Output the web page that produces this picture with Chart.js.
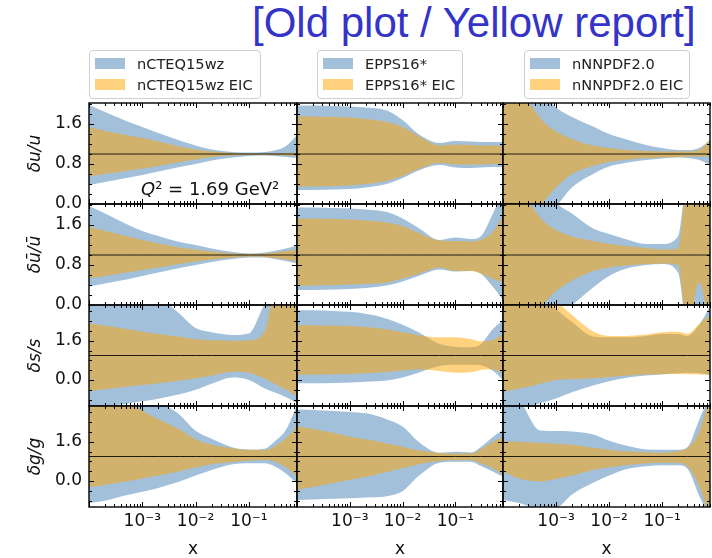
<!DOCTYPE html>
<html><head><meta charset="utf-8">
<script src="https://cdn.jsdelivr.net/npm/chart.js@4.4.1/dist/chart.umd.min.js"></script>
<style>
html,body{margin:0;padding:0;background:#fff;width:712px;height:558px;overflow:hidden;position:relative;font-family:'DejaVu Sans',sans-serif;}
canvas{position:absolute;}
.title{position:absolute;left:252px;top:2px;font-family:'Liberation Sans',Arial,sans-serif;font-size:42px;line-height:1;color:#3434c8;white-space:nowrap;}
.legend{position:absolute;top:50px;height:49px;border:1px solid #cfcfcf;border-radius:4px;background:rgba(255,255,255,0.85);box-sizing:border-box;}
.legend .patch{position:absolute;left:5px;width:30px;height:11px;}
.legend .lab{position:absolute;left:47px;font-size:14.6px;line-height:18px;color:#222;white-space:nowrap;}
.ann{position:absolute;left:141px;top:180px;font-size:18px;line-height:18px;color:#111;white-space:nowrap;z-index:5;}
</style>
</head>
<body>
<div class="title">[Old plot / Yellow report]</div>
<script>
// ---------------- data ----------------
const xGrid = [1e-4, 2e-4, 5e-4, 1e-3, 2e-3, 5e-3, 1e-2, 2e-2, 5e-2, 0.1, 0.2, 0.3, 0.5, 0.8];

const setNames = ['nCTEQ15wz', 'EPPS16*', 'nNNPDF2.0'];
const eicNames = ['nCTEQ15wz EIC', 'EPPS16* EIC', 'nNNPDF2.0 EIC'];
const flavourLabels = ['δu/u', 'δū/ū', 'δs/s', 'δg/g'];

const xTickValues = [1e-3, 1e-2, 1e-1];
const xTickLabels = ['10⁻³', '10⁻²', '10⁻¹'];
const xMajorMarks = [1e-4, 1e-3, 1e-2, 1e-1];
const yTicksNarrow = [0, 0.8, 1.6];
const yMinorNarrow = [0.2, 0.4, 0.6, 1.0, 1.2, 1.4, 1.8, 2.0];
const yTicksWide = [0, 1.6];
const yMinorWide = [-0.8, -0.4, 0.4, 0.8, 1.2, 2.0, 2.4, 2.8];
const unityRatio = 1;

// nCTEQ15wz
const nCTEQ_u_hi    = [1.98, 1.84, 1.66, 1.54, 1.42, 1.27, 1.17, 1.09, 1.04, 1.03, 1.04, 1.07, 1.16, 1.38];
const nCTEQ_u_lo    = [0.38, 0.44, 0.52, 0.58, 0.65, 0.74, 0.80, 0.87, 0.93, 0.96, 0.97, 0.96, 0.94, 0.92];
const nCTEQ_u_eicHi = [1.54, 1.46, 1.38, 1.32, 1.25, 1.15, 1.09, 1.05, 1.02, 1.01, 1.01, 1.01, 1.02, 1.03];
const nCTEQ_u_eicLo = [0.55, 0.60, 0.66, 0.71, 0.76, 0.84, 0.89, 0.94, 0.97, 0.98, 0.98, 0.98, 0.97, 0.96];

const nCTEQ_ub_hi    = [1.98, 1.83, 1.62, 1.48, 1.38, 1.26, 1.20, 1.13, 1.06, 1.03, 1.05, 1.08, 1.13, 1.19];
const nCTEQ_ub_lo    = [0.37, 0.43, 0.51, 0.58, 0.65, 0.74, 0.80, 0.86, 0.92, 0.95, 0.95, 0.92, 0.88, 0.83];
const nCTEQ_ub_eicHi = [1.57, 1.48, 1.38, 1.30, 1.23, 1.15, 1.11, 1.07, 1.03, 1.02, 1.03, 1.05, 1.08, 1.11];
const nCTEQ_ub_eicLo = [0.53, 0.58, 0.65, 0.70, 0.75, 0.82, 0.87, 0.91, 0.95, 0.97, 0.96, 0.94, 0.91, 0.87];

const nCTEQ_s_hi    = [3.5, 3.5, 3.5, 3.5, 3.4, 2.7, 2.12, 1.95, 1.84, 1.90, 3.1, 3.5, 3.5, 3.5];
const nCTEQ_s_lo    = [-1.13, -1.07, -0.97, -0.87, -0.76, -0.58, -0.40, -0.15, 0.10, 0.00, -0.35, -0.50, -0.70, -0.94];
const nCTEQ_s_eicHi = [2.31, 2.22, 2.08, 1.97, 1.88, 1.76, 1.66, 1.62, 1.60, 1.62, 2.0, 3.5, 3.5, 3.5];
const nCTEQ_s_eicLo = [-0.47, -0.38, -0.27, -0.20, -0.13, -0.02, 0.07, 0.18, 0.34, 0.30, 0.05, -0.15, -0.40, -0.65];

const nCTEQ_g_hi    = [5.0, 5.0, 4.5, 3.9, 3.3, 2.7, 2.05, 1.72, 1.37, 1.29, 1.32, 1.60, 2.10, 3.1];
const nCTEQ_g_lo    = [-0.90, -0.80, -0.58, -0.44, -0.28, -0.02, 0.22, 0.45, 0.68, 0.72, 0.72, 0.60, 0.30, -0.10];
const nCTEQ_g_eicHi = [3.6, 3.5, 3.25, 2.87, 2.52, 2.10, 1.70, 1.48, 1.34, 1.27, 1.27, 1.40, 1.75, 2.2];
const nCTEQ_g_eicLo = [-0.25, -0.16, -0.02, 0.10, 0.22, 0.40, 0.55, 0.68, 0.78, 0.83, 0.86, 0.80, 0.55, 0.18];

// EPPS16*
const EPPS_u_hi    = [1.97, 1.97, 1.96, 1.95, 1.93, 1.87, 1.68, 1.40, 1.22, 1.26, 1.25, 1.24, 1.24, 1.24];
const EPPS_u_lo    = [0.28, 0.28, 0.29, 0.30, 0.33, 0.40, 0.52, 0.67, 0.78, 0.73, 0.72, 0.73, 0.74, 0.74];
const EPPS_u_eicHi = [1.76, 1.75, 1.74, 1.73, 1.70, 1.64, 1.54, 1.36, 1.17, 1.19, 1.18, 1.17, 1.17, 1.16];
const EPPS_u_eicLo = [0.35, 0.35, 0.36, 0.37, 0.40, 0.46, 0.56, 0.70, 0.82, 0.79, 0.79, 0.79, 0.80, 0.80];

const EPPS_ub_hi    = [1.95, 1.95, 1.94, 1.93, 1.91, 1.86, 1.73, 1.54, 1.30, 1.35, 1.32, 1.37, 1.80, 2.3];
const EPPS_ub_lo    = [0.30, 0.30, 0.31, 0.32, 0.34, 0.39, 0.47, 0.58, 0.71, 0.67, 0.68, 0.63, 0.38, 0.10];
const EPPS_ub_eicHi = [1.73, 1.73, 1.72, 1.71, 1.69, 1.65, 1.58, 1.44, 1.29, 1.28, 1.27, 1.30, 1.45, 1.77];
const EPPS_ub_eicLo = [0.38, 0.39, 0.40, 0.41, 0.42, 0.45, 0.53, 0.62, 0.75, 0.68, 0.68, 0.63, 0.53, 0.45];

const EPPS_s_hi    = [2.85, 2.85, 2.82, 2.78, 2.70, 2.50, 2.25, 1.95, 1.48, 1.36, 1.34, 1.45, 2.05, 2.45];
const EPPS_s_lo    = [-0.13, -0.13, -0.12, -0.10, -0.07, -0.02, 0.10, 0.30, 0.57, 0.62, 0.62, 0.60, 0.40, 0.00];
const EPPS_s_eicHi = [2.24, 2.23, 2.21, 2.20, 2.16, 2.07, 1.95, 1.83, 1.74, 1.74, 1.66, 1.58, 1.62, 1.90];
const EPPS_s_eicLo = [0.21, 0.22, 0.24, 0.25, 0.28, 0.33, 0.39, 0.44, 0.37, 0.30, 0.32, 0.41, 0.44, 0.28];

const EPPS_g_hi    = [2.92, 2.90, 2.86, 2.82, 2.76, 2.52, 2.22, 1.60, 1.15, 1.19, 1.16, 1.38, 1.78, 2.08];
const EPPS_g_lo    = [-0.77, -0.75, -0.72, -0.70, -0.67, -0.62, -0.42, 0.20, 0.75, 0.79, 0.79, 0.62, 0.40, 0.18];
const EPPS_g_eicHi = [2.24, 2.12, 1.96, 1.81, 1.70, 1.53, 1.40, 1.25, 1.14, 1.12, 1.12, 1.30, 1.58, 1.81];
const EPPS_g_eicLo = [-0.36, -0.24, -0.08, 0.05, 0.17, 0.37, 0.52, 0.68, 0.82, 0.86, 0.86, 0.72, 0.53, 0.25];

// nNNPDF2.0
const NNPDF_u_hi    = [3.5, 3.0, 2.25, 1.93, 1.74, 1.55, 1.40, 1.30, 1.18, 1.12, 1.08, 1.08, 1.12, 1.28];
const NNPDF_u_lo    = [-1.5, -1.0, -0.4, -0.05, 0.33, 0.60, 0.75, 0.82, 0.88, 0.91, 0.93, 0.92, 0.88, 0.78];
const NNPDF_u_eicHi = [3.0, 2.4, 1.72, 1.45, 1.30, 1.17, 1.12, 1.08, 1.06, 1.05, 1.05, 1.05, 1.08, 1.28];
const NNPDF_u_eicLo = [-1.0, -0.6, -0.05, 0.33, 0.60, 0.76, 0.84, 0.88, 0.92, 0.93, 0.94, 0.95, 0.95, 0.95];

const NNPDF_ub_hi    = [3.5, 3.0, 2.5, 2.05, 1.83, 1.53, 1.42, 1.32, 1.22, 1.22, 1.38, 2.5, 2.5, 2.5];
const NNPDF_ub_lo    = [-1.5, -1.1, -0.6, -0.25, 0.0, 0.35, 0.58, 0.72, 0.80, 0.82, 0.65, -0.5, 0.0, -0.5];
const NNPDF_ub_eicHi = [3.0, 2.4, 1.75, 1.50, 1.37, 1.28, 1.22, 1.18, 1.14, 1.11, 1.13, 2.5, 2.5, 2.5];
const NNPDF_ub_eicLo = [-1.0, -0.6, -0.05, 0.28, 0.49, 0.68, 0.75, 0.79, 0.82, 0.83, 0.80, -0.5, 0.45, -0.5];

const NNPDF_s_hi    = [3.5, 3.5, 3.3, 2.88, 2.37, 1.78, 1.74, 1.74, 1.80, 1.88, 1.88, 1.80, 2.25, 3.0];
const NNPDF_s_lo    = [-1.5, -1.2, -0.95, -0.75, -0.50, -0.22, -0.05, 0.08, 0.18, 0.23, 0.28, 0.30, 0.28, 0.21];
const NNPDF_s_eicHi = [3.5, 3.5, 3.5, 3.2, 2.65, 1.98, 1.80, 1.80, 1.86, 1.95, 1.97, 1.88, 2.28, 2.65];
const NNPDF_s_eicLo = [-0.47, -0.36, -0.15, 0.00, 0.03, 0.07, 0.12, 0.17, 0.22, 0.25, 0.25, 0.24, 0.23, 0.21];

const NNPDF_g_hi    = [3.5, 3.3, 2.06, 2.04, 2.02, 1.90, 1.64, 1.46, 1.29, 1.28, 1.28, 1.38, 2.5, 3.5];
const NNPDF_g_lo    = [-0.77, -0.90, -1.15, -1.10, -0.55, -0.07, 0.22, 0.47, 0.60, 0.64, 0.64, 0.50, -0.6, -1.5];
const NNPDF_g_eicHi = [1.62, 1.60, 1.55, 1.52, 1.48, 1.36, 1.28, 1.21, 1.17, 1.15, 1.22, 1.35, 2.0, 3.5];
const NNPDF_g_eicLo = [0.39, 0.10, -0.02, 0.08, 0.22, 0.45, 0.56, 0.64, 0.72, 0.75, 0.73, 0.60, -0.2, -1.5];

// ---------------- assembly ----------------
const panels = [
  [[nCTEQ_u_hi, nCTEQ_u_lo, nCTEQ_u_eicHi, nCTEQ_u_eicLo], [EPPS_u_hi, EPPS_u_lo, EPPS_u_eicHi, EPPS_u_eicLo], [NNPDF_u_hi, NNPDF_u_lo, NNPDF_u_eicHi, NNPDF_u_eicLo]],
  [[nCTEQ_ub_hi, nCTEQ_ub_lo, nCTEQ_ub_eicHi, nCTEQ_ub_eicLo], [EPPS_ub_hi, EPPS_ub_lo, EPPS_ub_eicHi, EPPS_ub_eicLo], [NNPDF_ub_hi, NNPDF_ub_lo, NNPDF_ub_eicHi, NNPDF_ub_eicLo]],
  [[nCTEQ_s_hi, nCTEQ_s_lo, nCTEQ_s_eicHi, nCTEQ_s_eicLo], [EPPS_s_hi, EPPS_s_lo, EPPS_s_eicHi, EPPS_s_eicLo], [NNPDF_s_hi, NNPDF_s_lo, NNPDF_s_eicHi, NNPDF_s_eicLo]],
  [[nCTEQ_g_hi, nCTEQ_g_lo, nCTEQ_g_eicHi, nCTEQ_g_eicLo], [EPPS_g_hi, EPPS_g_lo, EPPS_g_eicHi, EPPS_g_eicLo], [NNPDF_g_hi, NNPDF_g_lo, NNPDF_g_eicHi, NNPDF_g_eicLo]]
];

const BLUE = 'rgba(70,130,180,0.5)';
const ORANGE = 'rgba(255,165,0,0.5)';
const FONT = 'DejaVu Sans';

const colLeft = [89, 297, 503], colRight = [297, 503, 710];
const rowTop = [103, 204, 305, 406], rowBottom = [204, 305, 406, 507];
const yRangeNarrow = [0, 2.02], yRangeWide = [-1.06, 3.06];

const xMinorMarks = [];
[1e-4, 1e-3, 1e-2, 1e-1].forEach(d => [2,3,4,5,6,7,8,9].forEach(m => {
  const v = +(m * d).toPrecision(3); if (v <= 0.8) xMinorMarks.push(v);
}));

function pts(arr) { return xGrid.map((x, i) => ({x, y: arr[i]})); }

function frameTicks(yMajor, yMinor) {
  return {
    id: 'frameTicks',
    afterDatasetsDraw(chart) {
      const {ctx, chartArea: a} = chart;
      const xs = chart.scales.x, ys = chart.scales.y;
      ctx.save();
      ctx.strokeStyle = '#000';
      ctx.lineWidth = 1;
      const vx = (vals, len) => vals.forEach(v => {
        if (v < xs.min || v > xs.max) return;
        const p = Math.round(xs.getPixelForValue(v)) + 0.5;
        ctx.beginPath();
        ctx.moveTo(p, a.bottom); ctx.lineTo(p, a.bottom - len);
        ctx.moveTo(p, a.top); ctx.lineTo(p, a.top + len);
        ctx.stroke();
      });
      const vy = (vals, len) => vals.forEach(v => {
        if (v < ys.min || v > ys.max) return;
        const p = Math.round(ys.getPixelForValue(v)) + 0.5;
        ctx.beginPath();
        ctx.moveTo(a.left, p); ctx.lineTo(a.left + len, p);
        ctx.moveTo(a.right, p); ctx.lineTo(a.right - len, p);
        ctx.stroke();
      });
      vx(xMajorMarks, 5); vx(xMinorMarks, 3);
      vy(yMajor, 5); vy(yMinor, 3);
      ctx.lineWidth = 1.4;
      ctx.strokeRect(a.left, a.top, a.right - a.left, a.bottom - a.top);
      ctx.restore();
    }
  };
}

for (let r = 0; r < 4; r++) {
  for (let c = 0; c < 3; c++) {
    const [hi, lo, eHi, eLo] = panels[r][c];
    const isLeft = c === 0, isBottom = r === 3;
    const wide = r >= 2;
    const padL = isLeft ? 0 : 2, padR = 2, padT = 12, padB = isBottom ? 0 : 12;
    const left = isLeft ? 0 : colLeft[c] - 2;
    const top = rowTop[r] - 12;
    const width = colRight[c] + 2 - left;
    const bottom = isBottom ? 570 : rowBottom[r] + 12;
    const height = bottom - top;
    const cv = document.createElement('canvas');
    cv.width = width; cv.height = height;
    cv.style.left = left + 'px'; cv.style.top = top + 'px';
    cv.style.width = width + 'px'; cv.style.height = height + 'px';
    document.body.appendChild(cv);

    const yTicks = wide ? yTicksWide : yTicksNarrow;
    const yMinor = wide ? yMinorWide : yMinorNarrow;
    const yRange = wide ? yRangeWide : yRangeNarrow;

    const xScale = {
      type: 'logarithmic', min: xGrid[0], max: xGrid[xGrid.length - 1], display: isBottom,
      grid: {display: false, drawTicks: false}, border: {display: false},
      ticks: {font: {family: FONT, size: 17}, color: '#111', padding: 4, maxRotation: 0, minRotation: 0, autoSkip: false,
        callback: (v) => { const i = xTickValues.indexOf(v); return i >= 0 ? xTickLabels[i] : ''; }},
      afterBuildTicks: (s) => { s.ticks = xTickValues.map(v => ({value: v})); },
      title: {display: true, text: 'x', font: {family: FONT, size: 17}, color: '#111', padding: {top: 0, bottom: 10}}
    };
    if (isBottom) xScale.afterFit = (s) => { s.height = 570 - 507; s.paddingLeft = 0; s.paddingRight = 0; };

    const yScale = {
      type: 'linear', min: yRange[0], max: yRange[1], display: isLeft,
      grid: {display: false, drawTicks: false}, border: {display: false},
      ticks: {font: {family: FONT, size: 17}, color: '#111', padding: 7, autoSkip: false,
        callback: (v) => Number(v).toFixed(1)},
      afterBuildTicks: (s) => { s.ticks = yTicks.map(v => ({value: v})); },
      title: {display: true, text: flavourLabels[r], font: {family: FONT, size: 17, style: 'italic'}, color: '#111', padding: {top: 25, bottom: 0}}
    };
    if (isLeft) yScale.afterFit = (s) => { s.width = 89; s.paddingTop = 0; s.paddingBottom = 0; };

    new Chart(cv, {
      type: 'line',
      data: {datasets: [
        {label: setNames[c], data: pts(hi), fill: '+1', backgroundColor: BLUE, borderWidth: 0, pointRadius: 0, order: 3},
        {label: setNames[c] + ' lower', data: pts(lo), fill: false, borderWidth: 0, pointRadius: 0, order: 3},
        {label: eicNames[c], data: pts(eHi), fill: '+1', backgroundColor: ORANGE, borderWidth: 0, pointRadius: 0, order: 2},
        {label: eicNames[c] + ' lower', data: pts(eLo), fill: false, borderWidth: 0, pointRadius: 0, order: 2},
        {label: 'ratio 1', data: xGrid.map(x => ({x, y: unityRatio})), fill: false, borderColor: 'rgba(0,0,0,0.85)', borderWidth: 1, pointRadius: 0, order: 1, cubicInterpolationMode: 'default', tension: 0}
      ]},
      options: {
        responsive: false, animation: false, events: [], devicePixelRatio: 1,
        layout: {padding: {left: padL, right: padR, top: padT, bottom: padB}},
        elements: {line: {cubicInterpolationMode: 'monotone'}},
        plugins: {legend: {display: false}, tooltip: {enabled: false}},
        scales: {x: xScale, y: yScale}
      },
      plugins: [frameTicks(yTicks.concat([]), yMinor)]
    });
  }
}

// legends
const legendLeft = [89, 317, 524], legendWidth = [172, 146, 166];
for (let c = 0; c < 3; c++) {
  const box = document.createElement('div');
  box.className = 'legend';
  box.style.left = legendLeft[c] + 'px';
  box.style.width = legendWidth[c] + 'px';
  [[setNames[c], BLUE, 7], [eicNames[c], ORANGE, 28]].forEach(([t, col, y]) => {
    const p = document.createElement('div'); p.className = 'patch';
    p.style.top = y + 'px'; p.style.background = col; box.appendChild(p);
    const l = document.createElement('div'); l.className = 'lab';
    l.style.top = (y - 3) + 'px'; l.textContent = t; box.appendChild(l);
  });
  document.body.appendChild(box);
}
const ann = document.createElement('div');
ann.className = 'ann';
ann.innerHTML = '<i>Q</i>² = 1.69 GeV²';
document.body.appendChild(ann);
</script>
</body></html>
